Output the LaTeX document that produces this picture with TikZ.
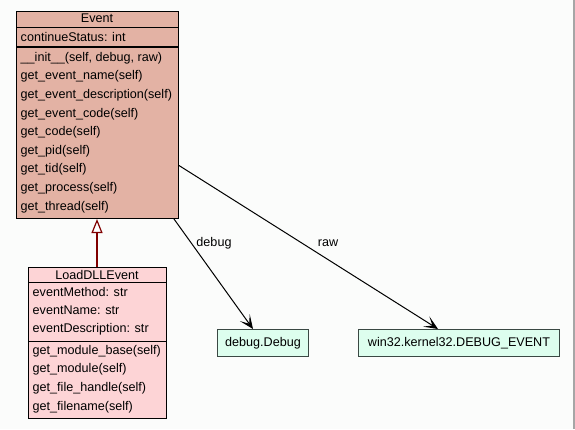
\documentclass[tikz,border=0pt]{standalone}
\usepackage{fontspec}
\setmainfont{Liberation Sans}
\usetikzlibrary{arrows.meta,calc}
\definecolor{bgc}{HTML}{FBFCFB}
\definecolor{evfill}{HTML}{E3B2A4}
\definecolor{ldfill}{HTML}{FDD4D6}
\definecolor{gfill}{HTML}{DDFEEE}
\definecolor{gborder}{HTML}{3A4843}
\definecolor{inhred}{HTML}{800000}
\tikzset{
  classbox/.style={draw=black, line width=1pt, inner sep=0pt, anchor=north west},
  valbox/.style={draw=gborder, fill=gfill, line width=1pt, inner sep=0pt, anchor=north west, font=\fontsize{12.6}{14}\selectfont},
  member/.style={anchor=west, inner sep=0pt, font=\fontsize{12.6}{14}\selectfont},
  titletext/.style={anchor=center, inner sep=0pt, font=\fontsize{12.6}{14}\selectfont},
  sep/.style={line width=1pt},
  thicksep/.style={line width=2pt},
  assoc/.style={line width=1pt, -{Stealth[length=14pt,width=12pt,inset=7.5pt]}},
  inherit/.style={draw=inhred, line width=2.6pt, -{Triangle[open,length=14pt,width=11pt,line width=1.2pt,fill=white]}},
  lbl/.style={inner sep=0pt, font=\fontsize{12.6}{14}\selectfont}
}
\begin{document}
\begin{tikzpicture}[x=1pt,y=-1pt]
\fill[bgc] (0,0) rectangle (575,429);
\useasboundingbox (0,0) rectangle (575,429);
\draw[gray!70, line width=1.2pt] (574,0) -- (574,429);

% Event class
\node[classbox, fill=evfill, minimum width=162pt, minimum height=207pt] (ev) at (16,11) {};
\draw[sep] (16,27) -- (178,27);
\draw[thicksep] (16,46.5) -- (178,46.5);
\node[titletext] (evt) at (97,18.5) {Event};
\node[member] (ev0) at (20.5,36.5) {continueStatus: int};
\node[member] (ev1) at (20.5,58) {\_\_init\_\_(self, debug, raw)};
\node[member] (ev2) at (20.5,76.6) {get\_event\_name(self)};
\node[member] (ev3) at (20.5,95.2) {get\_event\_description(self)};
\node[member] (ev4) at (20.5,113.8) {get\_event\_code(self)};
\node[member] (ev5) at (20.5,132.4) {get\_code(self)};
\node[member] (ev6) at (20.5,151) {get\_pid(self)};
\node[member] (ev7) at (20.5,169.6) {get\_tid(self)};
\node[member] (ev8) at (20.5,188.2) {get\_process(self)};
\node[member] (ev9) at (20.5,206.8) {get\_thread(self)};

% LoadDLLEvent class
\node[classbox, fill=ldfill, minimum width=138pt, minimum height=151pt] (ld) at (28,267) {};
\draw[sep] (28,282.5) -- (166,282.5);
\draw[sep] (28,341) -- (166,341);
\node[titletext] (ldt) at (97,274.5) {LoadDLLEvent};
\node[member] (ld1) at (32.5,291.5) {eventMethod: str};
\node[member] (ld2) at (32.5,310.3) {eventName: str};
\node[member] (ld3) at (32.5,329.1) {eventDescription: str};
\node[member] (ld4) at (32.5,351) {get\_module\_base(self)};
\node[member] (ld5) at (32.5,369.6) {get\_module(self)};
\node[member] (ld6) at (32.5,388.2) {get\_file\_handle(self)};
\node[member] (ld7) at (32.5,406.8) {get\_filename(self)};

% value boxes
\node[valbox, minimum width=91pt, minimum height=27pt] (dbg) at (217,329) {};
\node[lbl] at (dbg.center) {debug.Debug};
\node[valbox, minimum width=201pt, minimum height=27pt] (w32) at (358,329) {};
\node[lbl] at (w32.center) {win32.kernel32.DEBUG\_EVENT};

% connectors
\draw[inherit] (ld.north -| evt.south) -- (ev.south -| evt.south);
\draw[assoc] ($(ev.south east)+(-5,0)$) -- ($(dbg.north)+(-10,0)$);
\draw[assoc] ($(ev.east)+(0,50.5)$) -- ($(w32.north)+(-21,0)$);
\node[lbl] (dl) at (214,243) {debug};
\node[lbl] (rl) at (328,243) {raw};
\end{tikzpicture}
\end{document}
